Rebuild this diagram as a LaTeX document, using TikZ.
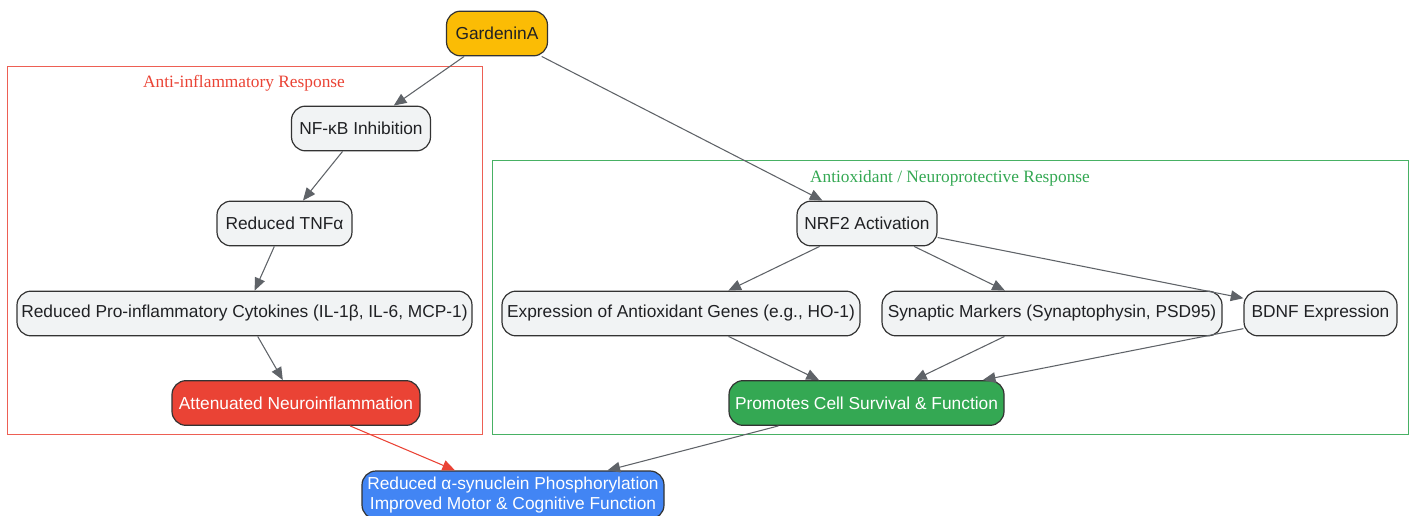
\documentclass[tikz,border=0pt]{standalone}
\usepackage{fontspec}
\setmainfont{Liberation Serif}
\setsansfont{Liberation Sans}
\usetikzlibrary{arrows.meta}
\definecolor{gyellow}{HTML}{FBBC05}
\definecolor{gred}{HTML}{EA4335}
\definecolor{ggreen}{HTML}{34A853}
\definecolor{gblue}{HTML}{4285F4}
\definecolor{gfill}{HTML}{F1F3F4}
\definecolor{gtext}{HTML}{202124}
\definecolor{gedge}{HTML}{5F6368}
\definecolor{gstroke}{HTML}{333333}
\tikzset{
  box/.style={draw=gstroke, line width=0.9pt, rounded corners=10.5pt, fill=gfill,
    text=gtext, font=\sffamily\fontsize{13}{15}\selectfont, inner sep=0pt,
    minimum height=33.5pt, align=center},
  whitebox/.style={box, text=white},
  edge/.style={draw=gedge, line width=0.8pt, -{Triangle[length=9.5pt,width=8pt]}},
  redge/.style={edge, draw=gred, -{Triangle[length=9.5pt,width=8pt,fill=gred]}},
  cluster/.style={line width=0.7pt},
  clabel/.style={font=\rmfamily\fontsize{13}{15}\selectfont, inner sep=0pt}
}
\begin{document}
\begin{tikzpicture}[x=0.75pt,y=-0.75pt]
\useasboundingbox (0,0) rectangle (1412,516);
% clusters
\draw[cluster, draw=gred!85] (7,66) rectangle (482,434);
\node[clabel, text=gred] (lab1) at (244,83.5) {Anti-inflammatory Response};
\draw[cluster, draw=ggreen!90] (492,160) rectangle (1408,434);
\node[clabel, text=ggreen] (lab2) at (950,178.5) {Antioxidant / Neuroprotective Response};
% nodes
\node[box, fill=gyellow, minimum width=75.75pt] (g) at (497,33.5) {GardeninA};
\node[box, minimum width=104.25pt] (nfkb) at (361,128.5) {NF-κB Inhibition};
\node[box, minimum width=101.25pt] (tnf) at (284.5,223.5) {Reduced TNFα};
\node[box, minimum width=341.25pt] (cyt) at (244.5,313.5) {Reduced Pro-inflammatory Cytokines (IL-1β, IL-6, MCP-1)};
\node[whitebox, fill=gred, minimum width=186pt] (att) at (296,403) {Attenuated Neuroinflammation};
\node[box, minimum width=105pt] (nrf) at (867,223.5) {NRF2 Activation};
\node[box, minimum width=268.5pt] (aox) at (681,313.5) {Expression of Antioxidant Genes (e.g., HO-1)};
\node[box, minimum width=255pt] (syn) at (1052,313.5) {Synaptic Markers (Synaptophysin, PSD95)};
\node[box, minimum width=114.75pt] (bdnf) at (1320.5,313.5) {BDNF Expression};
\node[whitebox, fill=gblue, minimum width=226.5pt, minimum height=36pt] (out) at (513,495)
  {Reduced α-synuclein Phosphorylation\\[0pt]Improved Motor \& Cognitive Function};
\node[whitebox, fill=ggreen, minimum width=206.25pt] (pro) at (866.5,403) {Promotes Cell Survival \& Function};
% edges
\draw[edge] (g) -- (nfkb);
\draw[edge] (g) -- (nrf);
\draw[edge] (nfkb) -- (tnf);
\draw[edge] (tnf) -- (cyt);
\draw[edge] (cyt) -- (att);
\draw[edge] (nrf) -- (aox);
\draw[edge] (nrf) -- (syn);
\draw[edge] (nrf) -- (bdnf);
\draw[edge] (aox) -- (pro);
\draw[edge] (syn) -- (pro);
\draw[edge] (bdnf) -- (pro);
\draw[redge] (att) -- (out);
\draw[edge] (pro) -- (out);
\end{tikzpicture}
\end{document}
